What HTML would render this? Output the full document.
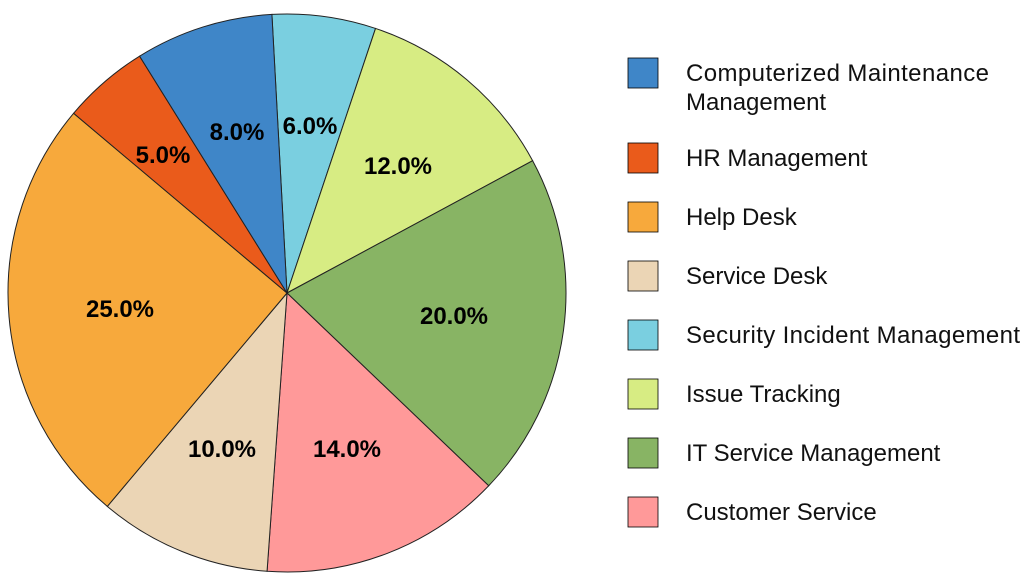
<!DOCTYPE html>
<html><head><meta charset="utf-8"><style>
body{margin:0;background:#fff;width:1024px;height:580px;overflow:hidden}
svg text{font-family:"Liberation Sans",Arial,sans-serif}
</style></head><body>
<svg id="s" width="1024" height="580" xmlns="http://www.w3.org/2000/svg">
<g id="pie"></g>
<g font-size="24" font-weight="bold" fill="#000" text-anchor="middle">
<text x="237" y="140">8.0%</text>
<text x="310" y="134">6.0%</text>
<text x="398" y="174">12.0%</text>
<text x="454" y="324">20.0%</text>
<text x="347" y="457">14.0%</text>
<text x="222" y="457">10.0%</text>
<text x="120" y="317">25.0%</text>
<text x="163" y="163">5.0%</text>
</g>
<g stroke="#000" stroke-width="0.8">
<rect x="628" y="58" width="30" height="30" fill="#3F86C8"/>
<rect x="628" y="143" width="30" height="30" fill="#EA5B1B"/>
<rect x="628" y="202" width="30" height="30" fill="#F7A93C"/>
<rect x="628" y="261" width="30" height="30" fill="#EBD5B5"/>
<rect x="628" y="320" width="30" height="30" fill="#7ACFE0"/>
<rect x="628" y="379" width="30" height="30" fill="#D7EC83"/>
<rect x="628" y="438" width="30" height="30" fill="#88B464"/>
<rect x="628" y="497" width="30" height="30" fill="#FF9999"/>
</g>
<g font-size="24" fill="#111">
<text x="686" y="81" textLength="303">Computerized Maintenance</text>
<text x="686" y="110">Management</text>
<text x="686" y="166">HR Management</text>
<text x="686" y="225">Help Desk</text>
<text x="686" y="284">Service Desk</text>
<text x="686" y="343" textLength="334">Security Incident Management</text>
<text x="686" y="402">Issue Tracking</text>
<text x="686" y="461">IT Service Management</text>
<text x="686" y="520">Customer Service</text>
</g>
</svg>
<script>
var cx=287,cy=293,r=279,a=-3.1;
var d=[[6,"#7ACFE0"],[12,"#D7EC83"],[20,"#88B464"],[14,"#FF9999"],[10,"#EBD5B5"],[25,"#F7A93C"],[5,"#EA5B1B"],[8,"#3F86C8"]];
var g=document.getElementById("pie"),h="";
function pt(t){var rad=t*Math.PI/180;return [cx+r*Math.sin(rad),cy-r*Math.cos(rad)];}
d.forEach(function(s){var b=a+s[0]*3.6,p1=pt(a),p2=pt(b);
h+='<path d="M'+cx+','+cy+'L'+p1[0].toFixed(2)+','+p1[1].toFixed(2)+'A'+r+','+r+' 0 '+(s[0]>50?1:0)+' 1 '+p2[0].toFixed(2)+','+p2[1].toFixed(2)+'Z" fill="'+s[1]+'" stroke="#222" stroke-width="1"/>';a=b;});
g.innerHTML=h;
</script>
</body></html>
